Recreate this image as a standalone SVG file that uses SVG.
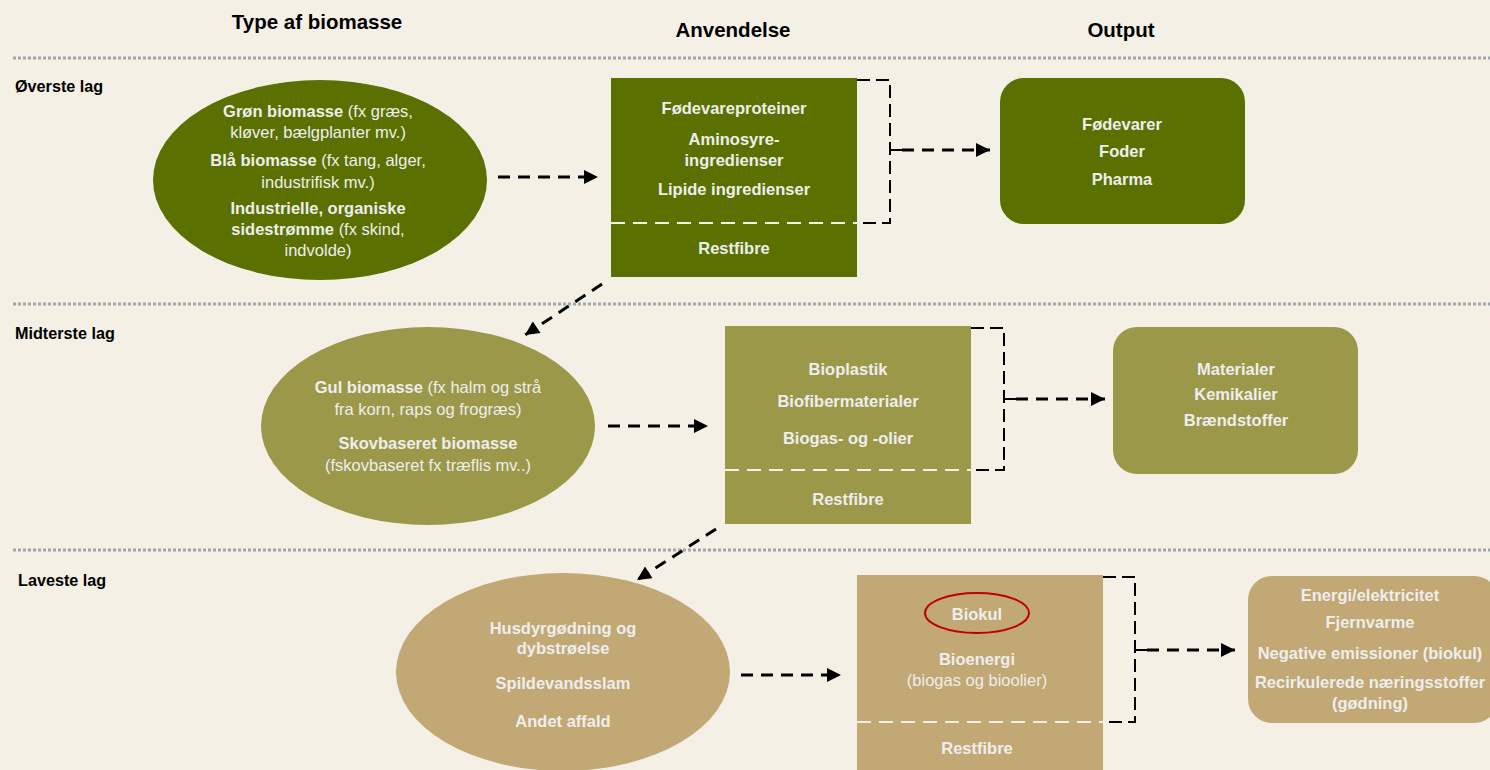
<svg xmlns="http://www.w3.org/2000/svg" width="1490" height="770" viewBox="0 0 1490 770">
<defs>
<marker id="ah" viewBox="0 0 10 10" refX="10" refY="5" markerUnits="userSpaceOnUse" markerWidth="15" markerHeight="14" orient="auto">
<path d="M0,0 L10,5 L0,10 z" fill="#000"/>
</marker>
</defs>
<style>
text{font-family:"Liberation Sans",Arial,sans-serif;}
.h{font-size:20.5px;font-weight:bold;fill:#000;text-anchor:middle;}
.lay{font-size:16.2px;font-weight:bold;fill:#000;}
.t{font-size:16.5px;font-weight:bold;fill:#EEEEEE;text-anchor:middle;}
.n{font-weight:normal;}
.sep{stroke:#9EA6AE;stroke-width:3;stroke-dasharray:3 2;fill:none;}
.arr{stroke:#000;stroke-width:3;stroke-dasharray:12 8;fill:none;marker-end:url(#ah);}
.br{stroke:#000;stroke-width:2;stroke-dasharray:13 6;fill:none;}
.wd{stroke:#F4F0E6;stroke-width:2;stroke-dasharray:14 8;fill:none;}
.g1{fill:#5A7000;}
.g2{fill:#9B984A;}
.g3{fill:#C1A874;}
</style>
<rect x="0" y="0" width="1490" height="770" fill="#F4F0E6"/>

<g id="headers">
<text class="h" x="317" y="29">Type af biomasse</text>
<text class="h" x="733" y="37">Anvendelse</text>
<text class="h" x="1121" y="37">Output</text>
<text class="lay" x="15" y="92">Øverste lag</text>
<text class="lay" x="15" y="339">Midterste lag</text>
<text class="lay" x="18" y="586">Laveste lag</text>
</g>

<g id="separators">
<line class="sep" x1="13" y1="58" x2="1490" y2="58"/>
<line class="sep" x1="13" y1="304" x2="1490" y2="304"/>
<line class="sep" x1="13" y1="550" x2="1490" y2="550"/>
</g>

<g id="top-ellipse">
<ellipse class="g1" cx="320" cy="180" rx="167" ry="100"/>
<text class="t" x="318" y="117">Grøn biomasse <tspan class="n">(fx græs,</tspan></text>
<text class="t" x="318" y="138"><tspan class="n">kløver, bælgplanter mv.)</tspan></text>
<text class="t" x="318" y="166">Blå biomasse <tspan class="n">(fx tang, alger,</tspan></text>
<text class="t" x="318" y="188"><tspan class="n">industrifisk mv.)</tspan></text>
<text class="t" x="318" y="214">Industrielle, organiske</text>
<text class="t" x="318" y="235">sidestrømme <tspan class="n">(fx skind,</tspan></text>
<text class="t" x="318" y="256"><tspan class="n">indvolde)</tspan></text>
</g>

<g id="top-rect">
<rect class="g1" x="611" y="78" width="246" height="199"/>
<line class="wd" x1="611" y1="223" x2="857" y2="223"/>
<text class="t" x="734" y="114">Fødevareproteiner</text>
<text class="t" x="734" y="145">Aminosyre-</text>
<text class="t" x="734" y="166">ingredienser</text>
<text class="t" x="734" y="195">Lipide ingredienser</text>
<text class="t" x="734" y="254">Restfibre</text>
</g>

<g id="top-output">
<rect class="g1" x="1000" y="78" width="245" height="146" rx="24"/>
<text class="t" x="1122" y="130">Fødevarer</text>
<text class="t" x="1122" y="157">Foder</text>
<text class="t" x="1122" y="185">Pharma</text>
</g>

<g id="mid-ellipse">
<ellipse class="g2" cx="428" cy="426" rx="167" ry="99"/>
<text class="t" x="428" y="393">Gul biomasse <tspan class="n">(fx halm og strå</tspan></text>
<text class="t" x="428" y="415"><tspan class="n">fra korn, raps og frogræs)</tspan></text>
<text class="t" x="428" y="449">Skovbaseret biomasse</text>
<text class="t" x="428" y="471"><tspan class="n">(fskovbaseret fx træflis mv..)</tspan></text>
</g>

<g id="mid-rect">
<rect class="g2" x="725" y="326" width="246" height="198"/>
<line class="wd" x1="725" y1="470" x2="971" y2="470"/>
<text class="t" x="848" y="375">Bioplastik</text>
<text class="t" x="848" y="407">Biofibermaterialer</text>
<text class="t" x="848" y="444">Biogas- og -olier</text>
<text class="t" x="848" y="505">Restfibre</text>
</g>

<g id="mid-output">
<rect class="g2" x="1113" y="327" width="245" height="147" rx="24"/>
<text class="t" x="1236" y="375">Materialer</text>
<text class="t" x="1236" y="400">Kemikalier</text>
<text class="t" x="1236" y="426">Brændstoffer</text>
</g>

<g id="low-ellipse">
<ellipse class="g3" cx="563" cy="672" rx="167" ry="99"/>
<text class="t" x="563" y="634">Husdyrgødning og</text>
<text class="t" x="563" y="654">dybstrøelse</text>
<text class="t" x="563" y="689">Spildevandsslam</text>
<text class="t" x="563" y="727">Andet affald</text>
</g>

<g id="low-rect">
<rect class="g3" x="857" y="575" width="246" height="200"/>
<line class="wd" x1="857" y1="722" x2="1103" y2="722"/>
<ellipse cx="977" cy="613" rx="52" ry="20" fill="none" stroke="#C00000" stroke-width="2"/>
<text class="t" x="977" y="620">Biokul</text>
<text class="t" x="977" y="665">Bioenergi</text>
<text class="t" x="977" y="686"><tspan class="n">(biogas og bioolier)</tspan></text>
<text class="t" x="977" y="754">Restfibre</text>
</g>

<g id="low-output">
<rect class="g3" x="1248" y="576" width="250" height="147" rx="24"/>
<text class="t" x="1370" y="601">Energi/elektricitet</text>
<text class="t" x="1370" y="628">Fjernvarme</text>
<text class="t" x="1370" y="659">Negative emissioner (biokul)</text>
<text class="t" x="1370" y="688">Recirkulerede næringsstoffer</text>
<text class="t" x="1370" y="709">(gødning)</text>
</g>

<g id="connectors">
<line class="arr" x1="498" y1="177" x2="598" y2="177"/>
<path class="br" d="M857,80 H890 V223 H857"/>
<line x1="890" y1="150" x2="902" y2="150" stroke="#000" stroke-width="2"/>
<line class="arr" x1="902" y1="150" x2="990" y2="150"/>
<line class="arr" x1="602" y1="284" x2="525" y2="335"/>

<line class="arr" x1="608" y1="426" x2="708" y2="426"/>
<path class="br" d="M971,328 H1004 V470 H971"/>
<line x1="1004" y1="399" x2="1016" y2="399" stroke="#000" stroke-width="2"/>
<line class="arr" x1="1016" y1="399" x2="1105" y2="399"/>
<line class="arr" x1="716" y1="529" x2="637" y2="580"/>

<line class="arr" x1="741" y1="675" x2="841" y2="675"/>
<path class="br" d="M1103,577 H1135 V722 H1103"/>
<line x1="1135" y1="650" x2="1147" y2="650" stroke="#000" stroke-width="2"/>
<line class="arr" x1="1147" y1="650" x2="1235" y2="650"/>
</g>
</svg>
